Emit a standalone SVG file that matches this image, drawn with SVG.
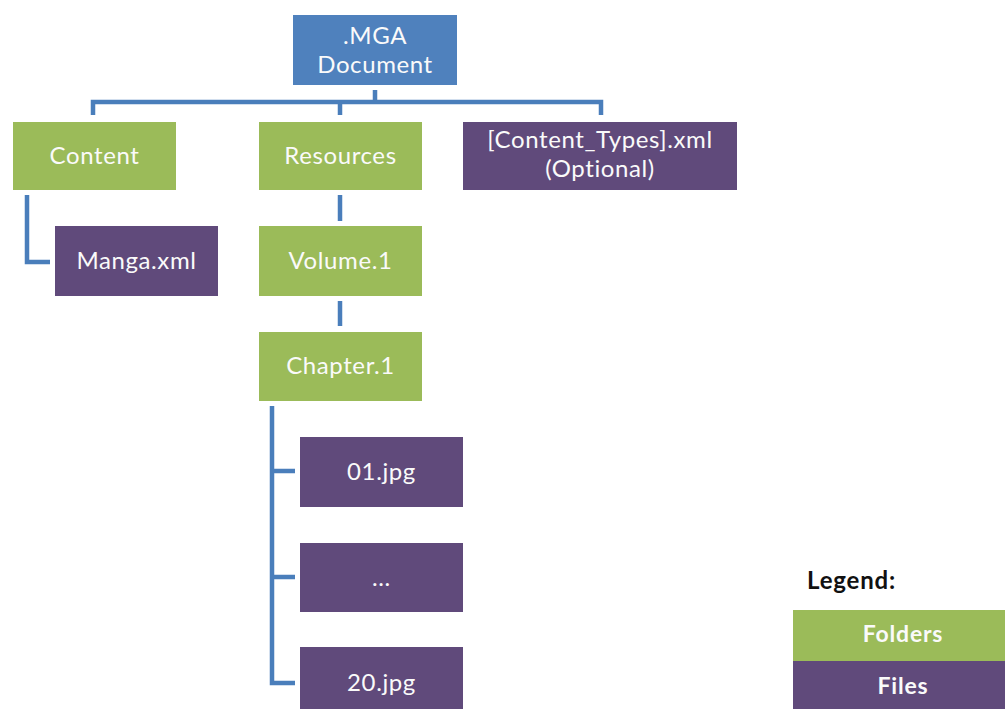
<svg xmlns="http://www.w3.org/2000/svg" width="1005" height="709" viewBox="0 0 1005 709">
<style>
.blue{fill:#4f81bd}
.green{fill:#9bbb59}
.purple{fill:#604a7b}
.t{font-family:Lato,"Open Sans","Liberation Sans",sans-serif;font-size:24px;letter-spacing:0.6px;fill:#fafafa;text-anchor:middle}
.lb{font-family:Lato,"Open Sans","Liberation Sans",sans-serif;font-size:23px;letter-spacing:0.8px;font-weight:bold;fill:#fafafa;text-anchor:middle}
.c{fill:none;stroke:#4a7ebb;stroke-width:4.5}
</style>
<rect width="1005" height="709" fill="#ffffff"/>
<g id="connectors">
<path class="c" d="M375 90V102M93 115V102H601V115M340 102V115"/>
<path class="c" d="M27 195V262H50"/>
<path class="c" d="M340 195V221"/>
<path class="c" d="M340 301V326"/>
<path class="c" d="M272 406V683H295M272 471H295M272 577H295"/>
</g>
<g id="mga"><rect class="blue" x="293" y="15" width="164" height="70"/><text class="t" x="375" y="44">.MGA<tspan x="375" dy="29">Document</tspan></text></g>
<g id="content"><rect class="green" x="13" y="122" width="163" height="68"/><text class="t" x="94.5" y="164">Content</text></g>
<g id="resources"><rect class="green" x="259" y="122" width="163" height="68"/><text class="t" x="340.5" y="164">Resources</text></g>
<g id="contenttypes"><rect class="purple" x="463" y="122" width="274" height="68"/><text class="t" x="600" y="148">[Content_Types].xml<tspan x="600" dy="29">(Optional)</tspan></text></g>
<g id="manga"><rect class="purple" x="55" y="226" width="163" height="70"/><text class="t" x="136.5" y="269">Manga.xml</text></g>
<g id="volume"><rect class="green" x="259" y="226" width="163" height="70"/><text class="t" x="340.5" y="269">Volume.1</text></g>
<g id="chapter"><rect class="green" x="259" y="332" width="163" height="69"/><text class="t" x="340.5" y="374">Chapter.1</text></g>
<g id="f01"><rect class="purple" x="300" y="437" width="163" height="70"/><text class="t" x="381.5" y="480">01.jpg</text></g>
<g id="fdots"><rect class="purple" x="300" y="543" width="163" height="69"/><text class="t" x="381.5" y="586">...</text></g>
<g id="f20"><rect class="purple" x="300" y="647" width="163" height="70"/><text class="t" x="381.5" y="691">20.jpg</text></g>
<g id="legend">
<text x="807" y="589" font-family="Lato,'Open Sans','Liberation Sans',sans-serif" font-size="24" letter-spacing="0.8" font-weight="bold" fill="#111">Legend:</text>
<rect class="green" x="793" y="610" width="212" height="51"/>
<rect class="purple" x="793" y="661" width="212" height="48"/>
<text class="lb" x="903" y="642">Folders</text>
<text class="lb" x="903" y="694">Files</text>
</g>
</svg>
